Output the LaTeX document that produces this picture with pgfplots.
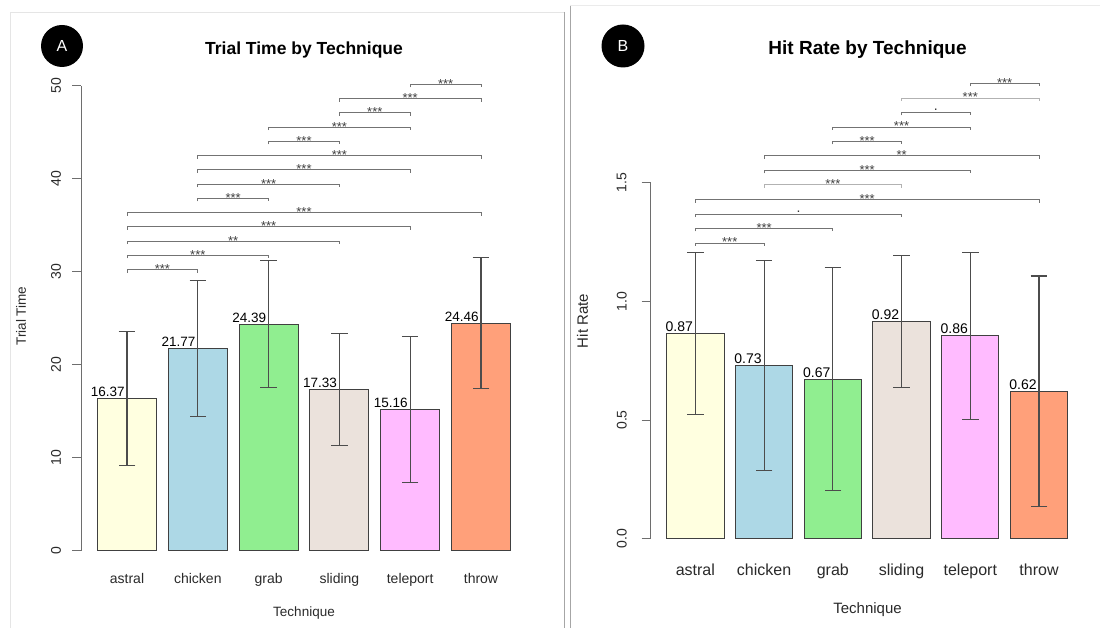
\documentclass[border=0pt]{standalone}
\usepackage{fontspec}
\setmainfont{Liberation Sans}
\usepackage{pgfplots}
\pgfplotsset{compat=1.18}
\definecolor{cAstral}{HTML}{FFFFE0}
\definecolor{cChicken}{HTML}{ADD8E6}
\definecolor{cGrab}{HTML}{90EE90}
\definecolor{cSliding}{HTML}{EBE2DC}
\definecolor{cTeleport}{HTML}{FFBBFF}
\definecolor{cThrow}{HTML}{FFA07A}
\definecolor{axgray}{HTML}{6E6E6E}
\definecolor{txtgray}{HTML}{2A2A2A}
\tikzset{
  brk/.style={draw=black!55, line width=0.8pt},
  brkl/.style={draw=black!30, line width=0.8pt},
  star/.style={font=\fontsize{13}{13}\selectfont, text=black!75, anchor=base, yshift=-4pt, inner sep=0pt},
  dot/.style={font=\fontsize{14}{14}\selectfont, text=black!80, anchor=base, yshift=2pt, inner sep=0pt},
}
\newcommand{\br}[6][brk]{%
  \draw[#1] ([yshift=-3pt]axis cs:#3,#5) -- (axis cs:#3,#5) -- node[#2] {#6} (axis cs:#4,#5) -- ([yshift=-3pt]axis cs:#4,#5);}
\newcommand{\onebar}[5]{%
  \addplot[ybar, bar width=0.8333, bar shift=0pt, fill=#5, draw=black!75, line width=0.9pt,
    nodes near coords, point meta=explicit symbolic,
    error bars/.cd, y dir=both, y explicit,
    error bar style={draw=black!70, line width=1.1pt},
    error mark options={rotate=90, mark size=8.3pt, draw=black!70, line width=1.1pt}]
    table[row sep=\\, x=x, y=y, y error=e, meta=l] {x y e l\\ #1 #2 #3 #4\\};}
\pgfplotsset{rbar/.style={
  scale only axis, clip=false,
  xmin=-0.65, xmax=5.65,
  axis x line=bottom, axis y line=left,
  axis line style={-},
  x axis line style={draw=none},
  y axis line style={draw=axgray, line width=1pt},
  xtick={0,1,2,3,4,5},
  xticklabels={astral,chicken,grab,sliding,teleport,throw},
  xtick align=inside, xtick style={draw=none},
  ytick align=outside, major tick length=9pt,
  ytick style={draw=axgray, line width=1pt},
  every node near coord/.append style={anchor=base east, inner sep=0pt, xshift=-2pt, yshift=2pt, text=black},
}}
\begin{document}
\begin{tikzpicture}[x=1pt,y=1pt]
\path[use as bounding box, fill=white] (0,0) rectangle (1106,628);
% panel frames
\draw[black!10] (10,-5) -- (10,616) -- (564.3,616);
\draw[black!35, line width=0.8pt] (564.3,616) -- (564.3,-5);
\draw[black!35, line width=0.8pt] (570,623) -- (570,-5);
\draw[black!8] (570,623) -- (1100,623);
% panel letters
\fill[black] (62,582) circle (21);
\node[white, font=\fontsize{16}{16}\selectfont] at (62,582) {A};
\fill[black] (623,582) circle (21.5);
\node[white, font=\fontsize{16}{16}\selectfont] at (623,582) {B};
% titles and labels
\node[anchor=base, font=\bfseries\fontsize{17.5}{18}\selectfont] at (304,573.7) {Trial Time by Technique};
\node[anchor=base, font=\bfseries\fontsize{19}{20}\selectfont] at (867.5,573.1) {Hit Rate by Technique};
\node[anchor=base, text=txtgray, font=\fontsize{13.5}{14}\selectfont] at (304,11.6) {Technique};
\node[anchor=base, text=txtgray, font=\fontsize{15}{16}\selectfont] at (867.5,14.6) {Technique};
\node[rotate=90, text=txtgray, font=\fontsize{13.5}{14}\selectfont] at (21,312) {Trial Time};
\node[rotate=90, text=txtgray, font=\fontsize{15}{16}\selectfont] at (582.5,307) {Hit Rate};

\begin{axis}[rbar, at={(81pt,77.3pt)}, anchor=south west, width=446pt, height=464.7pt,
  ymin=0, ymax=50, ytick={0,10,20,30,40,50}, yticklabels={0,10,20,30,40,50},
  xticklabel style={font=\fontsize{14}{16}\selectfont, text=txtgray, anchor=base, yshift=-32.5pt},
  yticklabel style={font=\fontsize{14}{16}\selectfont, text=txtgray, rotate=90, anchor=center, yshift=16pt},
  nodes near coords style={font=\fontsize{13.5}{14}\selectfont}]
\onebar{0}{16.37}{7.2}{16.37}{cAstral}
\onebar{1}{21.77}{7.3}{21.77}{cChicken}
\onebar{2}{24.39}{6.85}{24.39}{cGrab}
\onebar{3}{17.33}{6.0}{17.33}{cSliding}
\onebar{4}{15.16}{7.85}{15.16}{cTeleport}
\onebar{5}{24.46}{7.05}{24.46}{cThrow}
\br{star}{4}{5}{50.18}{***}
\br{star}{3}{5}{48.65}{***}
\br{star}{3}{4}{47.11}{***}
\br{star}{2}{4}{45.58}{***}
\br{star}{2}{3}{44.05}{***}
\br{star}{1}{5}{42.51}{***}
\br{star}{1}{4}{40.98}{***}
\br{star}{1}{3}{39.44}{***}
\br{star}{1}{2}{37.91}{***}
\br{star}{0}{5}{36.37}{***}
\br{star}{0}{4}{34.84}{***}
\br{star}{0}{3}{33.31}{**}
\br{star}{0}{2}{31.77}{***}
\br{star}{0}{1}{30.24}{***}
\end{axis}

\begin{axis}[rbar, at={(650.7pt,89.3pt)}, anchor=south west, width=433pt, height=356pt,
  ymin=0, ymax=1.5, ytick={0,0.5,1,1.5}, yticklabels={0.0,0.5,1.0,1.5},
  xticklabel style={font=\fontsize{16}{18}\selectfont, text=txtgray, anchor=base, yshift=-37pt},
  yticklabel style={font=\fontsize{14}{16}\selectfont, text=txtgray, rotate=90, anchor=center, yshift=20pt},
  nodes near coords style={font=\fontsize{14}{16}\selectfont}]
\onebar{0}{0.865}{0.34}{0.87}{cAstral}
\onebar{1}{0.731}{0.443}{0.73}{cChicken}
\onebar{2}{0.672}{0.47}{0.67}{cGrab}
\onebar{3}{0.915}{0.279}{0.92}{cSliding}
\onebar{4}{0.855}{0.352}{0.86}{cTeleport}
\onebar{5}{0.622}{0.485}{0.62}{cThrow}
\br{star}{4}{5}{1.918}{***}
\br[brkl]{star}{3}{5}{1.857}{***}
\br{dot}{3}{4}{1.796}{.}
\br{star}{2}{4}{1.735}{***}
\br{star}{2}{3}{1.674}{***}
\br{star}{1}{5}{1.613}{**}
\br{star}{1}{4}{1.552}{***}
\br[brkl]{star}{1}{3}{1.491}{***}
\br{star}{0}{5}{1.429}{***}
\br{dot}{0}{3}{1.368}{.}
\br{star}{0}{2}{1.307}{***}
\br{star}{0}{1}{1.246}{***}
\end{axis}
\end{tikzpicture}
\end{document}
